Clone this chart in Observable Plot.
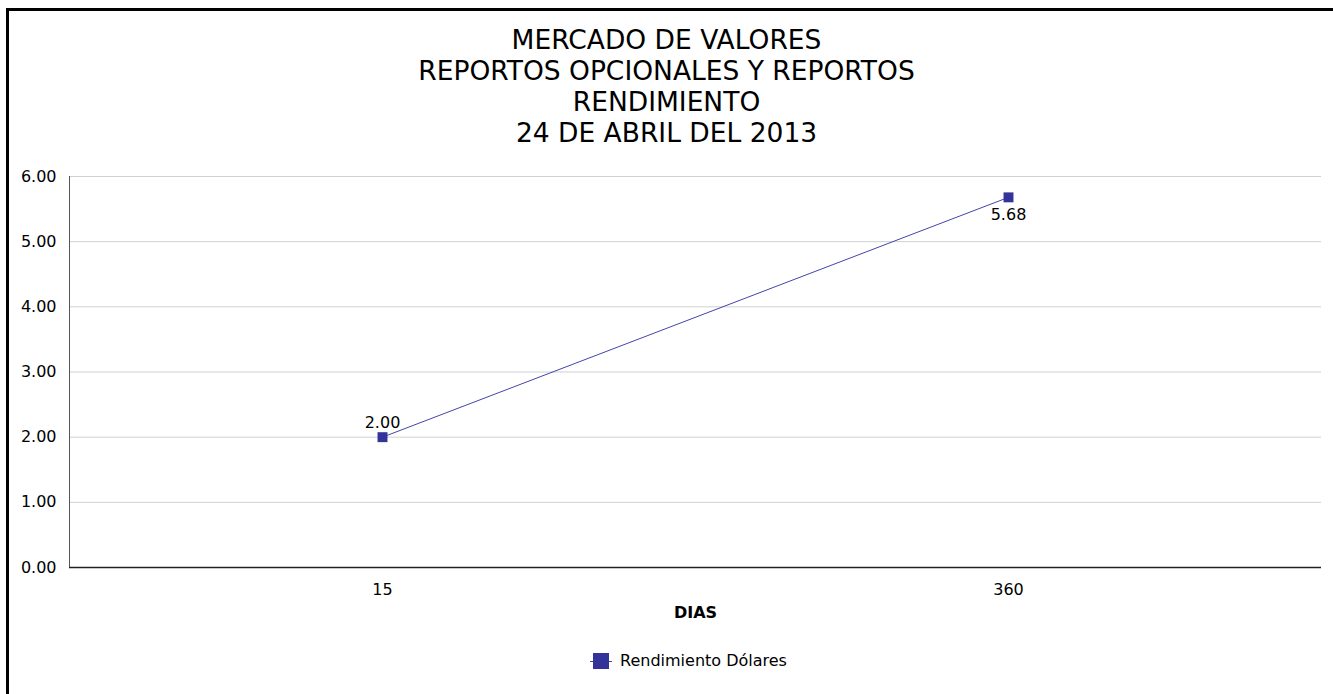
<!DOCTYPE html>
<html>
<head>
<meta charset="utf-8">
<script src="https://cdn.jsdelivr.net/npm/d3@7"></script>
<script src="https://cdn.jsdelivr.net/npm/@observablehq/plot@0.6"></script>
<style>
  html, body { margin: 0; padding: 0; background: #fff; }
  body { width: 1333px; height: 694px; position: relative; overflow: hidden;
         font-family: "DejaVu Sans", sans-serif; color: #000; }
  #frame { position: absolute; left: 6px; top: 8px; width: 1340px; height: 700px;
           border-left: 3px solid #000; border-top: 3px solid #000; }
  #title { position: absolute; left: 0; width: 1333px; top: 24px; text-align: center;
           font-size: 26.5px; line-height: 31px; }
  #chart { position: absolute; left: 0; top: 160px; }
  #legend { position: absolute; top: 651px; left: 22px; width: 1333px; text-align: center;
            font-size: 16px; display: flex; justify-content: center; align-items: center; }
  #legend .sw { position: relative; width: 22px; height: 16px; margin-right: 8px; }
  #legend .sw .ln { position: absolute; left: 0; top: 8px; width: 22px; height: 1px; background: #4444aa; }
  #legend .sw .sq { position: absolute; left: 3px; top: 0px; width: 16px; height: 16px; background: #333399; }
</style>
</head>
<body>
<div id="frame"></div>
<div id="title"></div>
<div id="chart"></div>
<div id="legend"></div>
<script>
const titleLines = ["MERCADO DE VALORES", "REPORTOS OPCIONALES Y REPORTOS", "RENDIMIENTO", "24 DE ABRIL DEL 2013"];
const days = ["15", "360"];
const values = [2.00, 5.68];
const yTicks = [0, 1, 2, 3, 4, 5, 6];
const seriesName = "Rendimiento Dólares";
const xLabel = "DIAS";
const labelAnchors = ["bottom", "top"];

document.getElementById("title").innerHTML = titleLines.map(t => `<div>${t}</div>`).join("");

const data = days.map((d, i) => ({day: d, value: values[i], anchor: labelAnchors[i]}));

const plot = Plot.plot({
  width: 1333,
  height: 460,
  marginLeft: 69,
  marginRight: 12,
  marginTop: 16,
  marginBottom: 53,
  style: {fontFamily: '"DejaVu Sans", sans-serif', fontSize: "16px", color: "#000", background: "transparent"},
  x: {type: "band", domain: days, padding: 0, label: null},
  y: {domain: [0, 6], ticks: yTicks, label: null},
  marks: [
    Plot.gridY(yTicks, {stroke: "#d0d0d0", strokeOpacity: 1, strokeWidth: 1}),
    Plot.frame({anchor: "left", stroke: "#555"}),
    Plot.ruleY([0], {stroke: "#222", strokeWidth: 1.5}),
    Plot.axisY(yTicks, {tickSize: 0, tickPadding: 13, tickFormat: d3.format(".2f"), fontSize: 16, label: null}),
    Plot.axisX({tickSize: 0, tickPadding: 16, fontSize: 16, label: null}),
    Plot.text([xLabel], {frameAnchor: "bottom", dy: 50, fontWeight: "bold", fontSize: 16}),
    Plot.line(data, {x: "day", y: "value", stroke: "#4444aa", strokeWidth: 1}),
    Plot.dot(data, {x: "day", y: "value", symbol: "square", r: 5.6, fill: "#333399", stroke: "none"}),
    Plot.text(data.filter(d => d.anchor === "bottom"), {x: "day", y: "value", text: d => d3.format(".2f")(d.value), dy: -14, fontSize: 16}),
    Plot.text(data.filter(d => d.anchor === "top"), {x: "day", y: "value", text: d => d3.format(".2f")(d.value), dy: 18, fontSize: 16})
  ]
});
document.getElementById("chart").appendChild(plot);

document.getElementById("legend").innerHTML =
  `<div class="sw"><div class="ln"></div><div class="sq"></div></div><span>${seriesName}</span>`;
</script>
</body>
</html>
